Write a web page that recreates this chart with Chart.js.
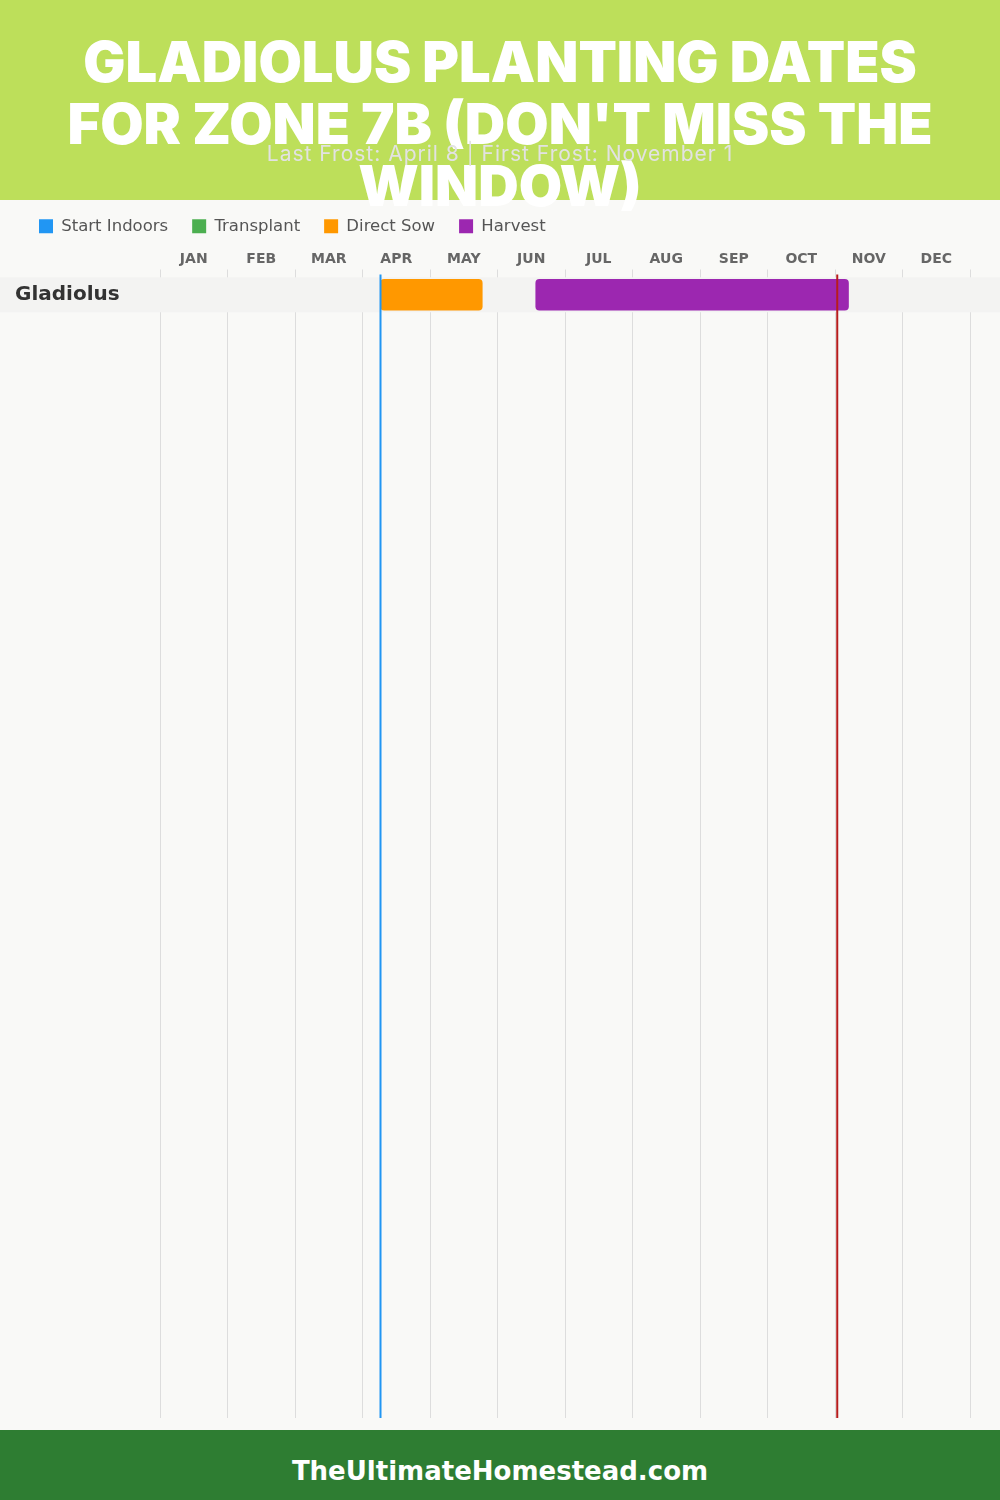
<!DOCTYPE html>
<html>
<head>
<meta charset="utf-8">
<script src="https://cdn.jsdelivr.net/npm/chart.js@4.4.1/dist/chart.umd.min.js"></script>
<style>
  body { margin: 0; width: 1000px; height: 1500px; background: #f9f9f7; position: relative; overflow: hidden; font-family: Inter, sans-serif; }
  .header { position: absolute; left: 0; top: 0; width: 1000px; height: 200px; background: #bddf5a; }
  .title { position: absolute; left: 0; top: 31px; width: 1000px; text-align: center; color: #fff; font-family: Inter, sans-serif; font-weight: 900; font-size: 56px; line-height: 62px; white-space: nowrap; z-index: 3; }
  .subtitle { position: absolute; left: 0; top: 141px; width: 1000px; text-align: center; color: #e2e2e2; font-size: 21px; letter-spacing: 1px; line-height: 26px; z-index: 4; }
  .chartBox { position: absolute; left: 0; top: 190px; width: 1000px; height: 1240px; z-index: 2; }
  .footer { position: absolute; left: 0; top: 1430px; width: 1000px; height: 70px; background: #2e7d32; color: #fff; text-align: center; font-family: "DejaVu Sans", sans-serif; font-weight: bold; font-size: 26px; line-height: 82px; }
</style>
</head>
<body>
<div class="header"></div>
<div class="title">GLADIOLUS PLANTING DATES<br>FOR ZONE 7B (DON'T MISS THE<br>WINDOW)</div>
<div class="subtitle">Last Frost: April 8 | First Frost: November 1</div>
<div class="chartBox"><canvas id="planting-chart"></canvas></div>
<div class="footer">TheUltimateHomestead.com</div>

<script>
const months = ['JAN', 'FEB', 'MAR', 'APR', 'MAY', 'JUN', 'JUL', 'AUG', 'SEP', 'OCT', 'NOV', 'DEC'];
const daysInMonth = [31, 28, 31, 30, 31, 30, 31, 31, 30, 31, 30, 31];
const crops = ['Gladiolus'];
// [month index, day] start and end for each crop
const startIndoors = [null];
const transplant = [null];
const directSow = [[[3, 8], [4, 24]]];
const harvest = [[[5, 17], [10, 6]]];
const lastFrost = [3, 8];
const firstFrost = [10, 1];
const blankRows = 32;

const font = '"DejaVu Sans", sans-serif';

function monthPos(md) {
	return md[0] + md[1] / daysInMonth[md[0]];
}

function toBars(list) {
	return list.map((r) => (r ? [monthPos(r[0]), monthPos(r[1])] : null));
}

const rowLabels = crops.concat(Array(blankRows).fill(''));

// light band behind each crop row, drawn over the grid, then the row labels again
const rowBand = {
	id: 'rowBand',
	beforeDatasetsDraw(chart) {
		const { ctx, scales } = chart;
		ctx.save();
		ctx.fillStyle = '#f3f3f2';
		crops.forEach((c, i) => {
			const cy = scales.y.getPixelForValue(i);
			ctx.fillRect(0, cy - 17.5, chart.width, 35);
		});
		ctx.restore();
		scales.y.drawLabels(chart.chartArea);
	},
};

const frostLines = {
	id: 'frostLines',
	afterDatasetsDraw(chart) {
		const { ctx, chartArea, scales } = chart;
		const lines = [
			[lastFrost, '#2196f3'],
			[firstFrost, '#b71c1c'],
		];
		ctx.save();
		lines.forEach(([d, color]) => {
			const x = scales.x.getPixelForValue(monthPos(d));
			ctx.strokeStyle = color;
			ctx.lineWidth = 2;
			ctx.beginPath();
			ctx.moveTo(x, chartArea.top - 3);
			ctx.lineTo(x, chartArea.bottom);
			ctx.stroke();
		});
		ctx.restore();
	},
};

const ctx = document.getElementById('planting-chart').getContext('2d');

new Chart(ctx, {
	type: 'bar',
	data: {
		labels: rowLabels,
		datasets: [
			{ label: 'Start Indoors', data: toBars(startIndoors), backgroundColor: '#2196f3' },
			{ label: 'Transplant', data: toBars(transplant), backgroundColor: '#4caf50' },
			{ label: 'Direct Sow', data: toBars(directSow), backgroundColor: '#ff9800' },
			{ label: 'Harvest', data: toBars(harvest), backgroundColor: '#9c27b0' },
		],
	},
	options: {
		indexAxis: 'y',
		responsive: true,
		maintainAspectRatio: false,
		animation: false,
		datasets: {
			bar: { grouped: false, barThickness: 31, borderRadius: 4, borderSkipped: false, borderWidth: 0 },
		},
		layout: { padding: { top: 4, left: 15, right: 30, bottom: 10 } },
		plugins: {
			legend: {
				position: 'top',
				align: 'start',
				labels: { boxWidth: 14, boxHeight: 14, padding: 24, color: '#555', font: { family: font, size: 16.5 } },
			},
			tooltip: { enabled: false },
		},
		scales: {
			x: {
				type: 'linear',
				position: 'top',
				min: 0,
				max: 12,
				border: { display: false },
				// empty title only adds a little room above the month labels
				title: { display: true, text: '', padding: 0, font: { size: 3.5 } },
				grid: {
					tickLength: 8,
					color: (c) => (c.tick && c.tick.value % 1 === 0 ? '#dddddd' : 'rgba(0,0,0,0)'),
				},
				ticks: {
					stepSize: 0.5,
					maxTicksLimit: 30,
					autoSkip: false,
					maxRotation: 0,
					padding: 2,
					color: '#666',
					font: { family: font, size: 14, weight: 'bold' },
					callback: (v) => (v % 1 === 0.5 ? months[Math.floor(v)] : ''),
				},
			},
			y: {
				type: 'category',
				border: { display: false },
				grid: { display: false },
				afterFit: (s) => {
					s.width = 145;
				},
				ticks: {
					autoSkip: false,
					crossAlign: 'far',
					padding: 0,
					color: '#333',
					font: { family: font, size: 20, weight: 'bold' },
				},
			},
		},
	},
	plugins: [rowBand, frostLines],
});
</script>
</body>
</html>
